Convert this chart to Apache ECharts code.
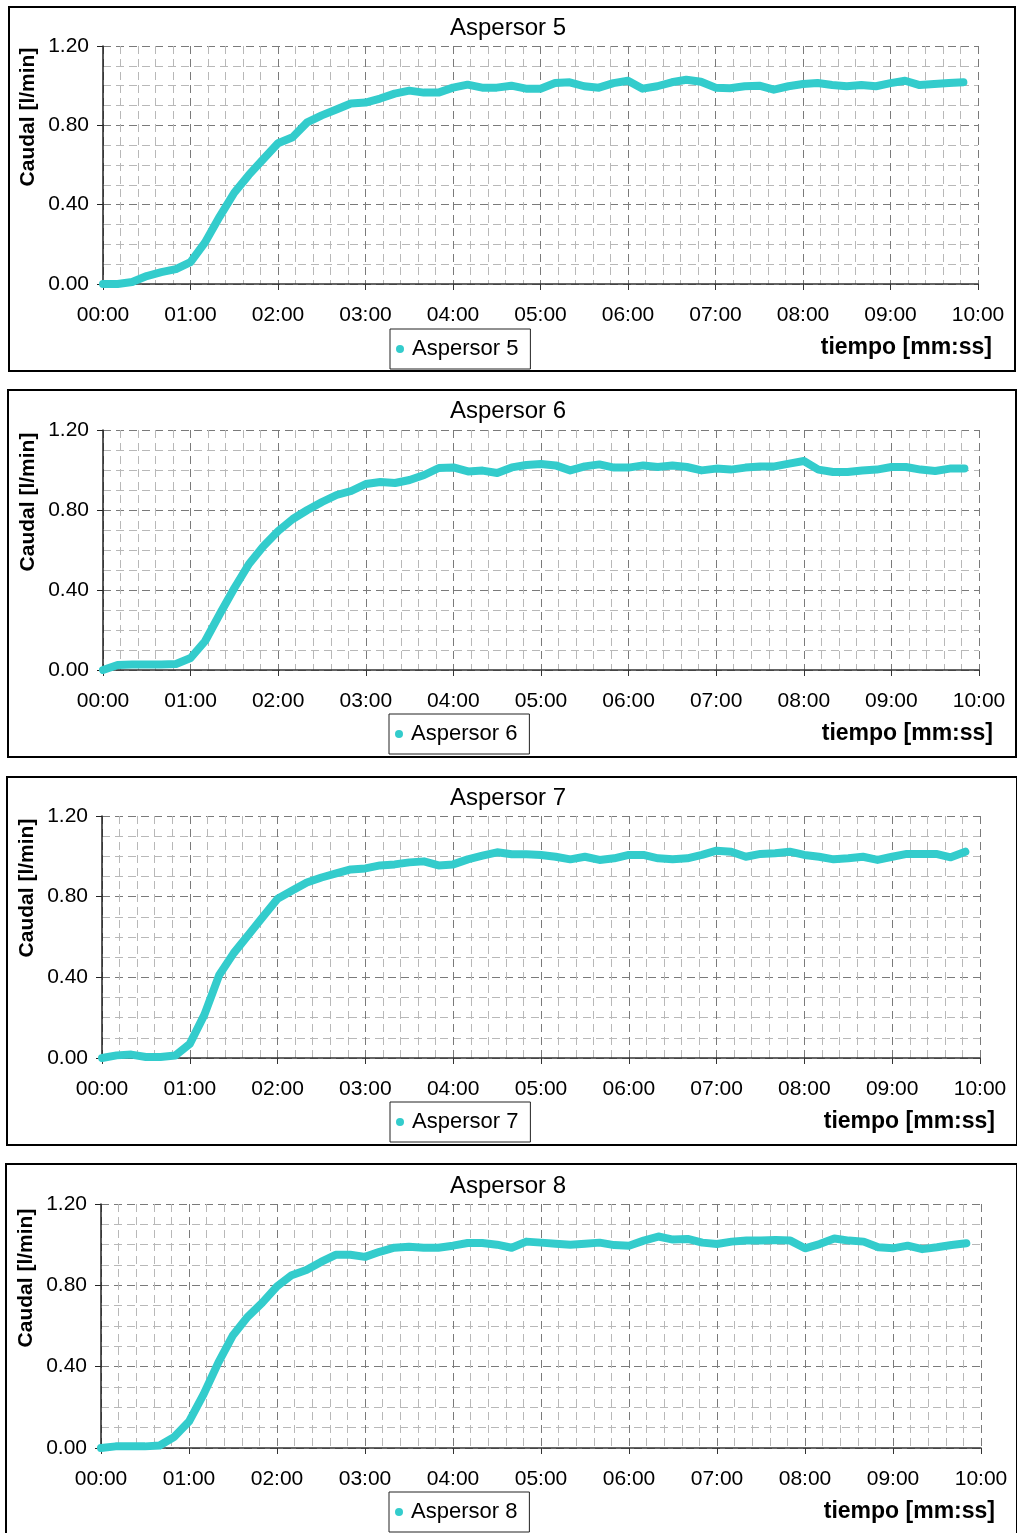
<!DOCTYPE html>
<html>
<head>
<meta charset="utf-8">
<script src="https://cdn.jsdelivr.net/npm/echarts@6/dist/echarts.min.js"></script>
<style>
html,body{margin:0;padding:0;background:#fff;}
#chart{width:1017px;height:1533px;}
</style>
</head>
<body>
<div id="chart"></div>
<script>
// time in seconds
var times = [0,10,20,30,40,50,60,70,80,90,100,110,120,130,140,150,160,170,180,190,200,210,220,230,240,250,260,270,280,290,300,310,320,330,340,350,360,370,380,390,400,410,420,430,440,450,460,470,480,490,500,510,520,530,540,550,560,570,580,590];
var xTickSeconds = [0,60,120,180,240,300,360,420,480,540,600];
var yTicks = [0.00,0.40,0.80,1.20];
var seriesNames = ['Aspersor 5','Aspersor 6','Aspersor 7','Aspersor 8'];

var aspersor5 = [0.00,0.00,0.01,0.04,0.06,0.075,0.11,0.21,0.34,0.46,0.55,0.63,0.71,0.74,0.815,0.85,0.88,0.91,0.915,0.935,0.96,0.975,0.965,0.965,0.99,1.005,0.99,0.99,1.00,0.985,0.985,1.013,1.017,0.997,0.99,1.013,1.025,0.985,0.997,1.017,1.03,1.02,0.99,0.987,0.997,1.00,0.98,0.997,1.008,1.013,1.003,0.997,1.003,0.997,1.013,1.025,1.003,1.008,1.013,1.017];
var aspersor6 = [0.00,0.025,0.028,0.028,0.028,0.03,0.06,0.145,0.28,0.41,0.53,0.62,0.695,0.755,0.80,0.84,0.875,0.895,0.93,0.94,0.935,0.95,0.975,1.01,1.013,0.993,0.997,0.985,1.013,1.025,1.03,1.023,0.998,1.018,1.028,1.012,1.012,1.023,1.015,1.023,1.015,0.998,1.007,1.002,1.012,1.018,1.018,1.032,1.045,1.002,0.99,0.99,0.998,1.002,1.015,1.015,1.002,0.995,1.007,1.007];
var aspersor7 = [0.00,0.013,0.017,0.005,0.005,0.012,0.07,0.215,0.41,0.52,0.61,0.70,0.79,0.83,0.87,0.895,0.915,0.935,0.94,0.955,0.96,0.97,0.975,0.955,0.96,0.985,1.003,1.02,1.01,1.01,1.007,0.998,0.985,0.998,0.982,0.99,1.007,1.007,0.99,0.985,0.99,1.007,1.028,1.023,0.998,1.012,1.015,1.023,1.007,0.998,0.985,0.99,0.998,0.982,0.998,1.012,1.012,1.012,0.995,1.023];
var aspersor8 = [0.00,0.008,0.008,0.008,0.012,0.055,0.13,0.265,0.42,0.555,0.645,0.715,0.795,0.85,0.875,0.915,0.95,0.95,0.94,0.965,0.985,0.99,0.985,0.985,0.995,1.008,1.008,1.00,0.985,1.015,1.01,1.005,1.00,1.005,1.01,0.998,0.995,1.02,1.04,1.025,1.028,1.01,1.003,1.015,1.02,1.02,1.023,1.02,0.982,1.003,1.03,1.02,1.015,0.987,0.982,0.995,0.978,0.987,0.998,1.007];

var allValues = [aspersor5, aspersor6, aspersor7, aspersor8];

// layout per panel
var panels = [
  {box:[9,7,1006,364],   grid:[103,46,875,238],  title:[508,28],   yname:[28,117],  xname:[992,348],  legend:[390,329]},
  {box:[8,390,1008,367], grid:[103,430,876,240], title:[508,411],  yname:[28,502],  xname:[993,734],  legend:[389,714]},
  {box:[7,777,1010,368], grid:[102,816,878,242], title:[508,798],  yname:[27,888],  xname:[995,1122], legend:[390,1102]},
  {box:[6,1164,1011,375],grid:[101,1204,880,244],title:[508,1186], yname:[26,1278], xname:[995,1512], legend:[389,1492]}
];

function pad(n){return (n<10?'0':'')+n;}
function fmtTime(v){v=Math.round(v);return pad(Math.floor(v/60))+':'+pad(v%60);}

var FONT = '"Liberation Sans", Arial, sans-serif';
var color = '#33CCCC';

var grids=[], xAxes=[], yAxes=[], series=[], legends=[], graphics=[];
panels.forEach(function(p,i){
  grids.push({left:p.grid[0], top:p.grid[1], width:p.grid[2], height:p.grid[3], containLabel:false});
  xAxes.push({
    type:'value', gridIndex:i, min:xTickSeconds[0], max:xTickSeconds[xTickSeconds.length-1], interval:60,
    axisLine:{show:true, onZero:false, lineStyle:{color:'#333', width:1.5}},
    axisTick:{show:true, inside:false, length:6, lineStyle:{color:'#333'}},
    axisLabel:{formatter:fmtTime, color:'#000', fontSize:21, fontFamily:FONT, margin:21},
    splitLine:{show:true, lineStyle:{color:'#7a7a7a', width:1, type:[8,5]}},
    minorTick:{show:false, splitNumber:5},
    minorSplitLine:{show:true, lineStyle:{color:'#b8b8b8', width:1, type:[8,5]}}
  });
  yAxes.push({
    type:'value', gridIndex:i, min:yTicks[0], max:yTicks[yTicks.length-1], interval:0.4,
    axisLine:{show:true, onZero:false, lineStyle:{color:'#222', width:1.5}},
    axisTick:{show:true, inside:false, length:6, lineStyle:{color:'#222'}},
    axisLabel:{formatter:function(v){return v.toFixed(2);}, color:'#000', fontSize:21, fontFamily:FONT, margin:14},
    splitLine:{show:true, lineStyle:{color:'#7a7a7a', width:1, type:[8,5]}},
    minorTick:{show:false, splitNumber:4},
    minorSplitLine:{show:true, lineStyle:{color:'#b8b8b8', width:1, type:[8,5]}}
  });
  series.push({
    name:seriesNames[i], type:'line', xAxisIndex:i, yAxisIndex:i,
    data:times.map(function(t,k){return [t, allValues[i][k]];}),
    symbol:'none', smooth:false, animation:false,
    lineStyle:{color:color, width:8, cap:'round', join:'round'},
    itemStyle:{color:color}
  });
  legends.push({
    data:[{name:seriesNames[i], icon:'circle'}],
    left:p.legend[0], top:p.legend[1],
    orient:'horizontal',
    itemWidth:14, itemHeight:8,
    padding:[9,12,9,6],
    borderColor:'#222', borderWidth:1, borderRadius:0,
    backgroundColor:'#fff',
    textStyle:{fontSize:22, fontFamily:FONT, color:'#000'},
    selectedMode:false
  });
  graphics.push({
    type:'rect', silent:true, z:-1,
    shape:{x:p.box[0], y:p.box[1], width:p.box[2], height:p.box[3]},
    style:{fill:'none', stroke:'#000', lineWidth:2}
  });
  graphics.push({
    type:'text', silent:true, x:p.title[0], y:p.title[1],
    style:{text:seriesNames[i], fill:'#000', font:'24px '+FONT, textAlign:'center', textVerticalAlign:'middle'}
  });
  graphics.push({
    type:'text', silent:true, x:p.yname[0], y:p.yname[1], rotation:Math.PI/2,
    style:{text:'Caudal [l/min]', fill:'#000', font:'bold 21px '+FONT, textAlign:'center', textVerticalAlign:'middle'}
  });
  graphics.push({
    type:'text', silent:true, x:p.xname[0], y:p.xname[1],
    style:{text:'tiempo [mm:ss]', fill:'#000', font:'bold 23px '+FONT, textAlign:'right', textVerticalAlign:'middle'}
  });
});

var chart = echarts.init(document.getElementById('chart'), null, {renderer:'canvas'});
chart.setOption({
  backgroundColor:'#fff',
  animation:false,
  grid:grids, xAxis:xAxes, yAxis:yAxes, series:series, legend:legends,
  graphic:{elements:graphics}
});
</script>
</body>
</html>
